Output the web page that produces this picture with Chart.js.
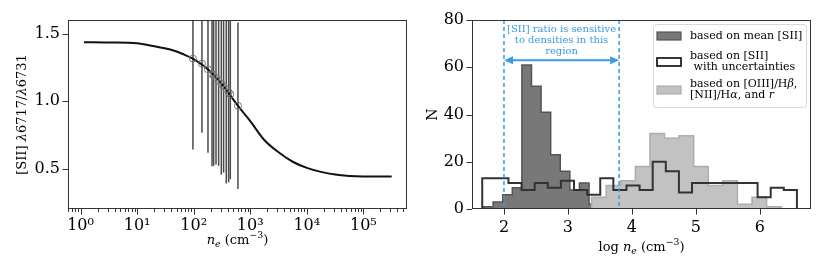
<!DOCTYPE html>
<html>
<head>
<meta charset="utf-8">
<script src="https://cdn.jsdelivr.net/npm/chart.js@4.4.1/dist/chart.umd.min.js"></script>
<style>
  html, body { margin: 0; padding: 0; background: #fff; }
  #wrap { position: relative; width: 830px; height: 277px; }
  canvas { position: absolute; top: 0; }
  #left { left: 0; }
  #right { left: 415px; }
</style>
</head>
<body>
<div id="wrap">
  <canvas id="left" width="415" height="277" style="width:415px;height:277px"></canvas>
  <canvas id="right" width="415" height="277" style="width:415px;height:277px"></canvas>
</div>
<script>
// --- left panel: [SII] ratio vs density
const curveDensity = [1.15, 3.16, 10, 17.8, 39.8, 66, 100, 178, 316, 603, 1000, 1738, 3162, 5623, 10000, 17783, 31623, 56234, 100000, 316228];
const curveRatio = [1.436, 1.434, 1.427, 1.41, 1.38, 1.346, 1.31, 1.235, 1.124, 0.965, 0.851, 0.715, 0.62, 0.55, 0.505, 0.475, 0.455, 0.445, 0.441, 0.44];

const pointDensity = [97, 140, 179, 211, 225, 248, 276, 308, 338, 377, 415, 444, 606];
const pointRatio = [1.314, 1.277, 1.235, 1.198, 1.19, 1.172, 1.15, 1.128, 1.11, 1.088, 1.066, 1.05, 0.965];
const pointError = [0.673, 0.512, 0.618, 0.681, 0.67, 0.642, 0.63, 0.673, 0.64, 0.699, 0.668, 0.63, 0.616];

const ratioTicks = [0.5, 1.0, 1.5];

// --- right panel: histograms of log n_e
const meanEdges = [1.68, 1.83, 1.98, 2.13, 2.28, 2.43, 2.58, 2.73, 2.88, 3.03, 3.18, 3.33, 3.48];
const meanCounts = [1, 3, 6, 9, 61, 52, 41, 23, 16, 8, 11, 2];

const uncEdges = [1.66, 1.865, 2.07, 2.275, 2.48, 2.685, 2.89, 3.095, 3.3, 3.505, 3.71, 3.915, 4.12, 4.325, 4.53, 4.735, 4.94, 5.145, 5.35, 5.555, 5.76, 5.965, 6.17, 6.375, 6.58];
const uncCounts = [13, 13, 11, 8, 11, 9, 12, 8, 6, 13, 8, 10, 8, 20, 16, 7, 11, 11, 11, 11, 11, 5, 9, 8];

const lineEdges = [3.37, 3.598, 3.826, 4.054, 4.282, 4.51, 4.738, 4.966, 5.194, 5.422, 5.65, 5.878, 6.106, 6.334];
const lineCounts = [5, 10, 12, 18, 32, 30, 31, 18, 10, 12, 2, 5, 1];

const sensitiveRange = [2.0, 3.8];
const arrowLevel = 63;
const noteLines = ['[SII] ratio is sensitive', 'to densities in this', 'region'];

const SERIF = '"DejaVu Serif", serif';
const BLUE = '#3b9ae1';
const SUP = { '0': '⁰', '1': '¹', '2': '²', '3': '³', '4': '⁴', '5': '⁵', '6': '⁶' };

function isPow10(v) {
  const l = Math.log10(v);
  return Math.abs(l - Math.round(l)) < 1e-6;
}

// text made of pieces, some italic / sub / sup
function richText(ctx, parts, x, y, size, opts = {}) {
  ctx.save();
  ctx.translate(x, y);
  if (opts.rotate) ctx.rotate(-Math.PI / 2);
  const fontOf = p => `${p.it ? 'italic ' : ''}${p.s ? size * 0.72 : size}px ${SERIF}`;
  let w = 0;
  parts.forEach(p => { ctx.font = fontOf(p); w += ctx.measureText(p.t).width; });
  let cx = opts.align === 'left' ? 0 : -w / 2;
  ctx.textBaseline = 'alphabetic';
  ctx.fillStyle = opts.color || '#000';
  parts.forEach(p => {
    ctx.font = fontOf(p);
    const dy = p.s === 'sub' ? size * 0.22 : p.s === 'sup' ? -size * 0.4 : 0;
    ctx.fillText(p.t, cx, dy + size * 0.36);
    cx += ctx.measureText(p.t).width;
  });
  ctx.restore();
}

function drawFrameAndTicks(chart, xMajor, xMinorLen) {
  const { ctx, chartArea: a, scales } = chart;
  ctx.save();
  ctx.strokeStyle = '#333';
  ctx.lineWidth = 1;
  ctx.strokeRect(a.left + 0.5, a.top + 0.5, a.right - a.left - 1, a.bottom - a.top - 1);
  scales.x.ticks.forEach(t => {
    if (t.value < scales.x.min || t.value > scales.x.max) return;
    const px = Math.round(scales.x.getPixelForValue(t.value)) + 0.5;
    const len = xMajor(t.value) ? 5.5 : xMinorLen;
    ctx.beginPath(); ctx.moveTo(px, a.bottom); ctx.lineTo(px, a.bottom + len); ctx.stroke();
  });
  scales.y.ticks.forEach(t => {
    const py = Math.round(scales.y.getPixelForValue(t.value)) + 0.5;
    ctx.beginPath(); ctx.moveTo(a.left, py); ctx.lineTo(a.left - 5.5, py); ctx.stroke();
  });
  ctx.restore();
}

const tickFont = { family: SERIF, size: 16 };

// ---------------- left chart
const errorBars = {
  id: 'errorBars',
  beforeDatasetsDraw(chart) {
    const { ctx, chartArea: a, scales: { x, y } } = chart;
    ctx.save();
    ctx.beginPath(); ctx.rect(a.left, a.top, a.right - a.left, a.bottom - a.top); ctx.clip();
    ctx.strokeStyle = '#4a4a4a';
    ctx.lineWidth = 1.5;
    pointDensity.forEach((d, i) => {
      const px = x.getPixelForValue(d);
      ctx.beginPath();
      ctx.moveTo(px, y.getPixelForValue(pointRatio[i] - pointError[i]));
      ctx.lineTo(px, y.getPixelForValue(pointRatio[i] + pointError[i]));
      ctx.stroke();
    });
    ctx.restore();
  },
  afterDraw(chart) {
    const { ctx, chartArea: a } = chart;
    drawFrameAndTicks(chart, isPow10, 3);
    const cx = (a.left + a.right) / 2;
    richText(ctx, [{ t: 'n', it: true }, { t: 'e', it: true, s: 'sub' }, { t: ' (cm' }, { t: '−3', s: 'sup' }, { t: ')' }], cx, 239, 13);
    richText(ctx, [{ t: '[SII] ' }, { t: 'λ', it: true }, { t: '6717/' }, { t: 'λ', it: true }, { t: '6731' }], 21, (a.top + a.bottom) / 2, 13, { rotate: true });
  }
};

new Chart(document.getElementById('left'), {
  type: 'line',
  data: {
    datasets: [
      {
        data: pointDensity.map((d, i) => ({ x: d, y: pointRatio[i] })),
        showLine: false,
        pointRadius: 3.5,
        pointBorderColor: '#777',
        pointBorderWidth: 1,
        pointBackgroundColor: 'rgba(255,255,255,0)',
        order: 1
      },
      {
        data: curveDensity.map((d, i) => ({ x: d, y: curveRatio[i] })),
        borderColor: '#111',
        borderWidth: 2,
        pointRadius: 0,
        cubicInterpolationMode: 'monotone',
        fill: false,
        order: 2
      }
    ]
  },
  options: {
    responsive: false,
    animation: false,
    layout: { padding: { top: 20, right: 8, left: 0, bottom: 0 } },
    plugins: { legend: { display: false }, tooltip: { enabled: false } },
    scales: {
      x: {
        type: 'logarithmic',
        min: 0.61,
        max: 590000,
        afterFit(s) { s.height = 68; },
        afterBuildTicks(s) {
          const vals = [];
          for (let e = -1; e <= 5; e++) {
            for (let k = 1; k <= 9; k++) {
              const v = k * Math.pow(10, e);
              if (v >= s.min && v <= s.max) vals.push({ value: v });
            }
          }
          s.ticks = vals;
        },
        grid: { display: false, drawTicks: true, tickLength: 6 },
        border: { display: false },
        ticks: {
          autoSkip: false,
          maxRotation: 0,
          padding: 1,
          color: '#000',
          font: tickFont,
          callback: v => isPow10(v) ? '10' + String(Math.round(Math.log10(v))).split('').map(c => SUP[c]).join('') : ''
        }
      },
      y: {
        min: 0.2,
        max: 1.6,
        afterFit(s) { s.width = 68; },
        afterBuildTicks(s) { s.ticks = ratioTicks.map(v => ({ value: v })); },
        grid: { display: false, drawTicks: true, tickLength: 5 },
        border: { display: false },
        ticks: { padding: 3, color: '#000', font: tickFont, callback: v => Number(v).toFixed(1) }
      }
    }
  },
  plugins: [errorBars]
});

// ---------------- right chart
function stepPoints(edges, counts) {
  const pts = [{ x: edges[0], y: 0 }];
  counts.forEach((c, i) => pts.push({ x: edges[i], y: c }));
  pts.push({ x: edges[edges.length - 1], y: counts[counts.length - 1] });
  pts.push({ x: edges[edges.length - 1], y: 0 });
  return pts;
}

const annotations = {
  id: 'annotations',
  afterDatasetsDraw(chart) {
    const { ctx, chartArea: a, scales: { x, y } } = chart;
    ctx.save();
    ctx.strokeStyle = BLUE;
    ctx.fillStyle = BLUE;
    ctx.lineWidth = 1.5;
    ctx.setLineDash([4, 3]);
    sensitiveRange.forEach(v => {
      const px = x.getPixelForValue(v);
      ctx.beginPath(); ctx.moveTo(px, a.top); ctx.lineTo(px, a.bottom); ctx.stroke();
    });
    ctx.setLineDash([]);
    const x0 = x.getPixelForValue(sensitiveRange[0]);
    const x1 = x.getPixelForValue(sensitiveRange[1]);
    const py = y.getPixelForValue(arrowLevel);
    const head = 9;
    ctx.lineWidth = 2;
    ctx.beginPath(); ctx.moveTo(x0 + head, py); ctx.lineTo(x1 - head, py); ctx.stroke();
    ctx.beginPath(); ctx.moveTo(x0, py); ctx.lineTo(x0 + head, py - 4); ctx.lineTo(x0 + head, py + 4); ctx.closePath(); ctx.fill();
    ctx.beginPath(); ctx.moveTo(x1, py); ctx.lineTo(x1 - head, py - 4); ctx.lineTo(x1 - head, py + 4); ctx.closePath(); ctx.fill();
    ctx.font = `10px ${SERIF}`;
    ctx.textAlign = 'center';
    ctx.textBaseline = 'middle';
    const cx = (x0 + x1) / 2;
    noteLines.forEach((t, i) => ctx.fillText(t, cx, a.top + 9 + i * 11));
    ctx.restore();
  },
  afterDraw(chart) {
    const { ctx, chartArea: a } = chart;
    drawFrameAndTicks(chart, () => true, 5.5);
    richText(ctx, [{ t: 'log ' }, { t: 'n', it: true }, { t: 'e', it: true, s: 'sub' }, { t: ' (cm' }, { t: '−3', s: 'sup' }, { t: ')' }], (a.left + a.right) / 2, 246, 13);
    richText(ctx, [{ t: 'N' }], 17, (a.top + a.bottom) / 2, 14, { rotate: true });

    // legend
    const lx = a.right - 158, ly = a.top + 4;
    ctx.save();
    ctx.fillStyle = 'rgba(255,255,255,0.85)';
    ctx.strokeStyle = '#d8d8d8';
    ctx.lineWidth = 1;
    ctx.beginPath();
    ctx.roundRect(lx + 0.5, ly + 0.5, 153, 83, 3);
    ctx.fill(); ctx.stroke();
    const sw = (yy, fill, edge, lw) => {
      ctx.fillStyle = fill; ctx.fillRect(lx + 4, yy - 4, 24, 8);
      ctx.strokeStyle = edge; ctx.lineWidth = lw; ctx.strokeRect(lx + 4, yy - 4, 24, 8);
    };
    sw(ly + 12, '#787878', '#555', 1.2);
    sw(ly + 38, '#fff', '#222', 1.8);
    sw(ly + 66, '#c2c2c2', '#adadad', 1.2);
    ctx.restore();
    const tx = lx + 37;
    richText(ctx, [{ t: 'based on mean [SII]' }], tx, ly + 11, 11, { align: 'left' });
    richText(ctx, [{ t: 'based on [SII]' }], tx, ly + 31, 11, { align: 'left' });
    richText(ctx, [{ t: ' with uncertainties' }], tx, ly + 42, 11, { align: 'left' });
    richText(ctx, [{ t: 'based on [OIII]/H' }, { t: 'β', it: true }, { t: ',' }], tx, ly + 59, 11, { align: 'left' });
    richText(ctx, [{ t: '[NII]/H' }, { t: 'α', it: true }, { t: ', and ' }, { t: 'r', it: true }], tx, ly + 70, 11, { align: 'left' });
  }
};

new Chart(document.getElementById('right'), {
  type: 'line',
  data: {
    datasets: [
      {
        label: 'based on mean [SII]',
        data: stepPoints(meanEdges, meanCounts),
        stepped: true,
        borderColor: '#555',
        borderWidth: 1.5,
        backgroundColor: '#787878',
        fill: 'origin',
        pointRadius: 0,
        order: 3
      },
      {
        label: 'based on [OIII]/Hβ, [NII]/Hα, and r',
        data: stepPoints(lineEdges, lineCounts),
        stepped: true,
        borderColor: '#adadad',
        borderWidth: 1.5,
        backgroundColor: '#c2c2c2',
        fill: 'origin',
        pointRadius: 0,
        order: 2
      },
      {
        label: 'based on [SII] with uncertainties',
        data: stepPoints(uncEdges, uncCounts),
        stepped: true,
        borderColor: '#333',
        borderWidth: 2,
        fill: false,
        pointRadius: 0,
        order: 1
      }
    ]
  },
  options: {
    responsive: false,
    animation: false,
    layout: { padding: { top: 20, right: 19, left: 0, bottom: 0 } },
    plugins: { legend: { display: false }, tooltip: { enabled: false } },
    scales: {
      x: {
        type: 'linear',
        min: 1.5,
        max: 6.8,
        afterFit(s) { s.height = 68; },
        grid: { display: false, drawTicks: true, tickLength: 6 },
        border: { display: false },
        ticks: { stepSize: 1, includeBounds: false, maxRotation: 0, padding: 3, color: '#000', font: tickFont }
      },
      y: {
        min: 0,
        max: 80,
        afterFit(s) { s.width = 57; },
        grid: { display: false, drawTicks: true, tickLength: 5 },
        border: { display: false },
        ticks: { stepSize: 20, padding: 3, color: '#000', font: tickFont }
      }
    }
  },
  plugins: [annotations]
});
</script>
</body>
</html>
